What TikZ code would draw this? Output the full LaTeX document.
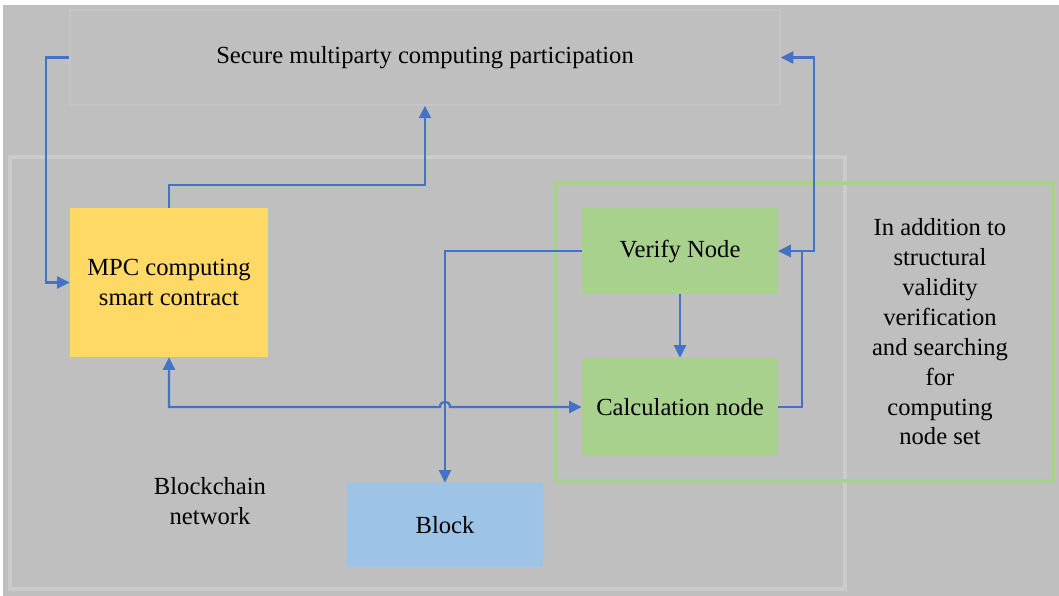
\documentclass[tikz,border=0pt]{standalone}
\usepackage{fontspec}
\setmainfont{Liberation Serif}
\usetikzlibrary{arrows.meta}
\usetikzlibrary{calc}

\definecolor{bggray}{HTML}{BFBFBF}
\definecolor{edgegray}{HTML}{C5C5C5}
\definecolor{netgray}{HTML}{CBCBCB}
\definecolor{linkblue}{HTML}{4472C4}
\definecolor{mpcyellow}{HTML}{FFD966}
\definecolor{nodegreen}{HTML}{A9D18E}
\definecolor{blockblue}{HTML}{9DC3E6}

\begin{document}
\begin{tikzpicture}[
    x=0.2mm, y=-0.2mm,
    >={Triangle[length=2.5mm,width=2.4mm]},
    main node/.style={align=center,inner sep=0pt,font=\fontsize{14}{17}\selectfont},
    cell/.style={main node,minimum width=39.2mm},
    link/.style={draw=linkblue,line width=0.45mm},
    frame/.style={line width=0.8mm}
    ]
    \useasboundingbox (0,0) rectangle (1059,596);
    % background
    \fill[bggray] (3,5) rectangle (1059,596);
    % frames
    \draw[frame,netgray] (10,157) rectangle (845,589);
    \draw[frame,nodegreen] (556,183) rectangle (1053,481);
    % nodes
    \node[main node,draw=edgegray,line width=0.3mm,minimum width=142mm,minimum height=19mm]
        (smpc) at (425,57.5) {Secure multiparty computing participation};
    \node[cell,fill=mpcyellow,minimum width=39.6mm,minimum height=29.8mm]
        (mpc) at (169,282.5) {MPC computing\\smart contract};
    \node[cell,fill=nodegreen,minimum height=17.2mm] (verify) at (680,251) {Verify Node};
    \node[cell,fill=nodegreen,minimum height=19.6mm] (calc) at (680,407) {Calculation node};
    \node[cell,fill=blockblue,minimum height=16.8mm] (block) at (445,525) {Block};
    \node[main node] (net) at (210,501) {Blockchain\\network};
    \node[main node] (note) at (940,332) {In addition to\\structural\\validity\\verification\\and searching\\for\\computing\\node set};
    % hop over the block link
    \coordinate (hopA) at (440,407);
    \coordinate (hopB) at (450,407);
    % arcs
    \draw[link,->] (smpc.west) -- ++(-23,0) |- (mpc.west);
    \draw[link,->] (mpc.north) -- ++(0,-23) -| (smpc.south);
    \draw[link,<->] (smpc.east) -- ++(33,0) |- (verify.east);
    \draw[link,->] (calc.east) -- ++(24,0) |- (verify.east);
    \draw[link,->] (verify) -- (calc);
    \draw[link,->] (verify.west) -| (block.north);
    \draw[link,<->] (mpc.south) |- (hopA) .. controls +(0,-7) and +(0,-7) .. (hopB) -- (calc.west);
\end{tikzpicture}
\end{document}
